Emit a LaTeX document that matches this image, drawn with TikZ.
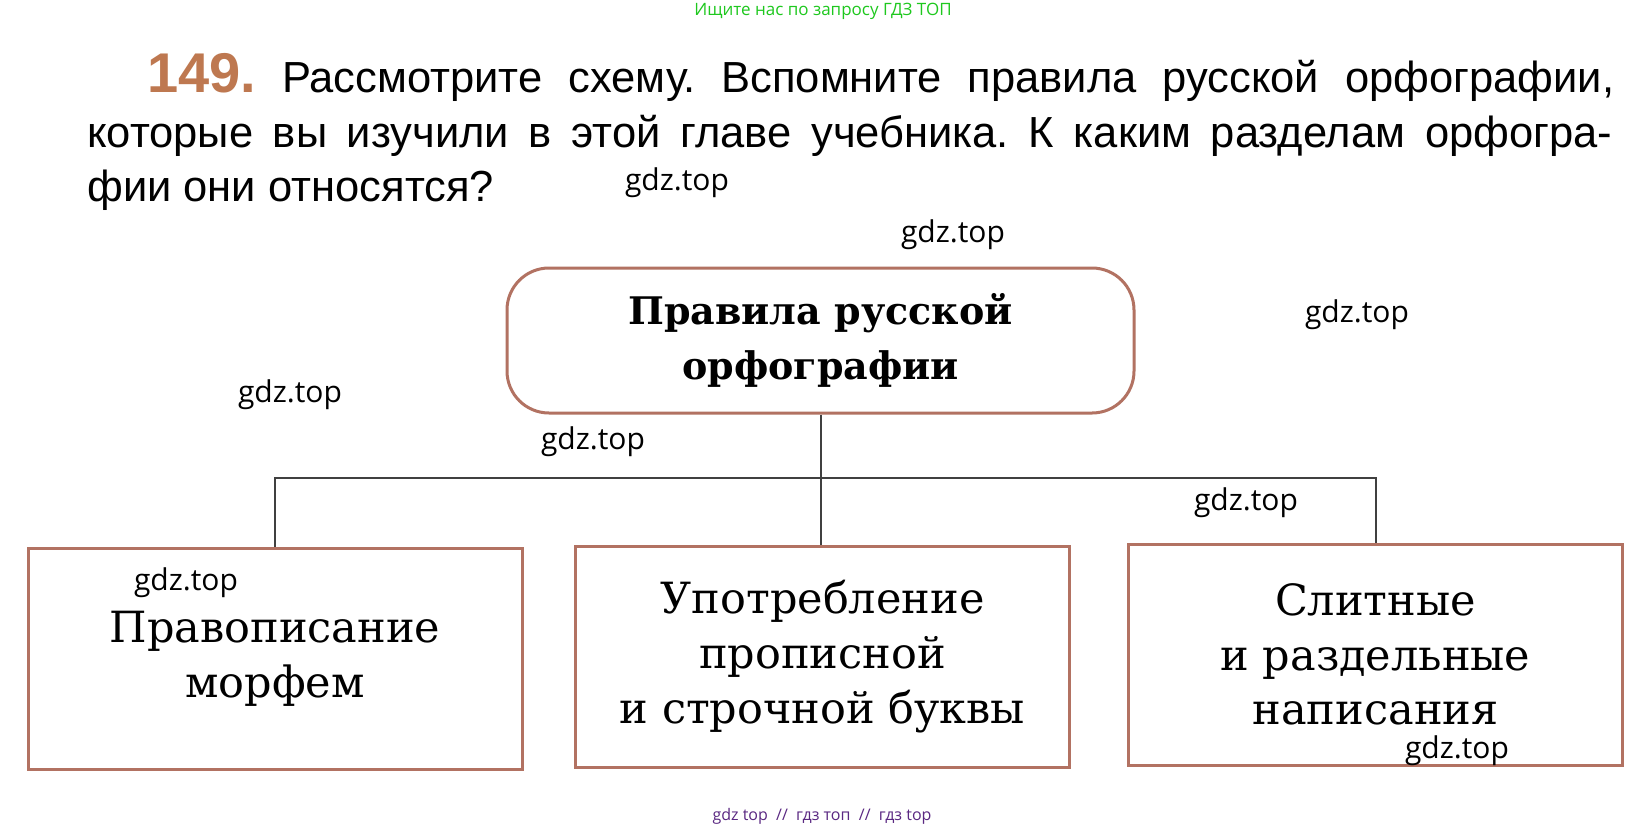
\documentclass[tikz,border=0pt]{standalone}
\usepackage{fontspec}
\setmainfont{DejaVu Serif}
\newfontfamily\headfont{Liberation Sans}
\newfontfamily\wmfont{Open Sans}
\usetikzlibrary{positioning}
\definecolor{framebrown}{RGB}{178,114,98}
\definecolor{numbrown}{RGB}{190,120,80}
\definecolor{wmgreen}{RGB}{30,200,30}
\definecolor{wmpurple}{RGB}{90,40,130}
\frenchspacing

\begin{document}
\begin{tikzpicture}[x=1pt,y=-1pt,
	leafbox/.style={draw=framebrown,line width=3pt,minimum width=494pt,minimum height=221pt,inner sep=0pt,align=center,font=\fontsize{43}{54.6}\selectfont},
	headbox/.style={leafbox,rounded corners=42pt,minimum width=627pt,minimum height=145pt,font=\fontsize{38}{55}\selectfont\bfseries},
	headline/.style={anchor=base west,inner sep=0pt,font=\headfont\fontsize{43.5}{43.5}\selectfont},
	wm/.style={inner sep=0pt,font=\wmfont\fontsize{30}{30}\selectfont},
	link/.style={draw=black!75,line width=2pt}]
	\useasboundingbox (0,0) rectangle (1646,831);
	\fill[white] (0,0) rectangle (1646,831);
	\node[wm,text=wmgreen,font=\wmfont\fontsize{17}{17}\selectfont] (ask) at (823,11) {Ищите нас по запросу ГДЗ ТОП};
	\node[headline] (line1) at (147,92) {\makebox[1467pt][s]{{\bfseries\fontsize{56}{56}\selectfont\color{numbrown}149.} Рассмотрите схему. Вспомните правила русской орфографии,}};
	\node[headline] (line2) at (87,147) {\makebox[1525pt][s]{которые вы изучили в этой главе учебника. К каким разделам орфогра-}};
	\node[headline] (line3) at (87,201) {фии они относятся?};
	\node[headbox] (rules) at (820.5,340.5) {Правила русской\\орфографии};
	\node[leafbox] (morph) at (275,658.5) {Правописание\\морфем};
	\node[leafbox] (caps) at (822.5,656.5) {Употребление\\прописной\\и строчной буквы};
	\node[leafbox] (split) at (1375.5,654.5) {Слитные\\и раздельные\\написания};
	\coordinate (fork) at (820.5,478);
	\draw[link] (rules) -- (fork);
	\draw[link] (morph.north) |- (fork);
	\draw[link] (split.north) |- (fork);
	\draw[link] (fork) -- (fork |- caps.north);
	\node[wm] (wm1) at (677,183) {gdz.top};
	\node[wm] (wm2) at (953,235) {gdz.top};
	\node[wm] (wm3) at (1357,315) {gdz.top};
	\node[wm] (wm4) at (290,395) {gdz.top};
	\node[wm] (wm5) at (593,442) {gdz.top};
	\node[wm] (wm6) at (1246,503) {gdz.top};
	\node[wm] (wm7) at (186,583) {gdz.top};
	\node[wm] (wm8) at (1457,751) {gdz.top};
	\node[wm,text=wmpurple,font=\wmfont\fontsize{16}{16}\selectfont] (foot) at (822,816) {gdz top \ // \ гдз топ \ // \ гдз top};
\end{tikzpicture}
\end{document}
